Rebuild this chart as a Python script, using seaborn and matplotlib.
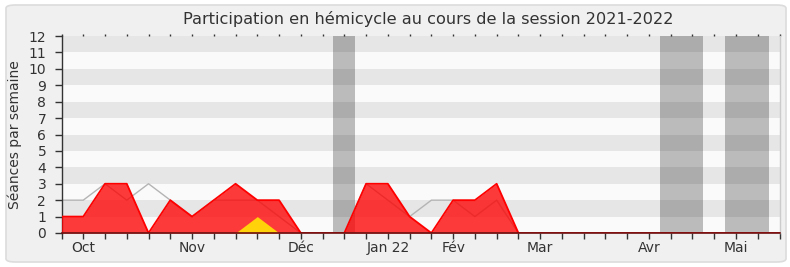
import matplotlib
matplotlib.use("Agg")
import matplotlib.pyplot as plt
from matplotlib.patches import FancyBboxPatch
import seaborn as sns
import pandas as pd
import numpy as np

# Week index 0..33 (weekly ticks, starting end of Sept 2021)
weeks = list(range(34))
# Participation of the deputy (red area)
presence = [1, 1, 3, 3, 0, 2, 1, 2, 3, 2, 2, 0, 0, 0, 3, 3, 1, 0, 2, 2, 3, 0,
            0, 0, 0, 0, 0, 0, 0, 0, 0, 0, 0, 0]
# Median participation (gray line)
median = [2, 2, 3, 2, 3, 2, 1, 2, 2, 2, 1, 0, 0, 0, 3, 2, 1, 2, 2, 1, 2, 0,
          0, 0, 0, 0, 0, 0, 0, 0, 0, 0, 0, 0]
# Interventions (yellow area)
questions = [0, 0, 0, 0, 0, 0, 0, 0, 0, 1, 0, 0, 0, 0, 0, 0, 0, 0, 0, 0, 0, 0,
             0, 0, 0, 0, 0, 0, 0, 0, 0, 0, 0, 0]
# Parliamentary recess (start, end) in week units
recess = [(12.5, 13.5), (27.5, 29.5), (30.5, 32.5)]
# Month labels
month_pos = [1, 6, 11, 15, 18, 22, 27, 31]
month_labels = ["Oct", "Nov", "Déc", "Jan 22", "Fév", "Mar", "Avr", "Mai"]

df = pd.DataFrame({"week": weeks, "presence": presence, "median": median,
                   "questions": questions})

sns.set_theme(style="white")
plt.rcParams["font.family"] = ["DejaVu Sans"]

fig = plt.figure(figsize=(7.9, 2.67), dpi=100, facecolor="white")
fig.patches.append(FancyBboxPatch((6 / 790, 5 / 267), 780 / 790, 257 / 267,
                                  boxstyle="round,pad=0,rounding_size=0.012",
                                  transform=fig.transFigure, facecolor="#f0f0f0",
                                  edgecolor="#dcdcdc", linewidth=1.2, zorder=-10))
ax = fig.add_axes([61.5 / 790, 1 - 233 / 267, 718 / 790, 197 / 267])
ax.set_facecolor("#fafafa")

# horizontal stripes
for k in range(1, 12, 2):
    ax.axhspan(k, k + 1, color="#e6e6e6", lw=0, zorder=0)

# recess bands
for a, b in recess:
    ax.axvspan(a, b, color="black", alpha=0.25, lw=0, zorder=1)

sns.lineplot(data=df, x="week", y="median", ax=ax, color="#b4b4b4", lw=1, zorder=2)
ax.fill_between(df["week"], 0, df["presence"], color="#ff0000", alpha=0.77, lw=0, zorder=3)
sns.lineplot(data=df, x="week", y="presence", ax=ax, color="#ff0000", lw=1.3, zorder=4)
ax.fill_between(df["week"], 0, df["questions"], color="#ffd20a", lw=0, zorder=5)

ax.set_xlim(0, 33)
ax.set_ylim(0, 12)
ax.set_yticks(range(13))
ax.set_xticks(weeks)
lab = [""] * len(weeks)
for p, l in zip(month_pos, month_labels):
    lab[p] = l
ax.set_xticklabels(lab)
ax.set_xlabel("")
ax.set_ylabel("Séances par semaine", fontsize=10, color="#333333", labelpad=5)

ax.tick_params(axis="y", direction="out", length=5, width=1, color="#333333",
               labelsize=10, labelcolor="#333333", pad=6, left=True)
ax.tick_params(axis="x", direction="out", length=4, width=1, color="#333333",
               labelsize=10, labelcolor="#333333", pad=2, bottom=True, top=False)

ax.spines["top"].set_visible(False)
ax.spines["right"].set_color("#cccccc")
ax.spines["right"].set_linewidth(1)
ax.spines["left"].set_color("#333333")
ax.spines["left"].set_linewidth(1)
ax.spines["bottom"].set_color("#6b1010")
ax.spines["bottom"].set_linewidth(1.2)
ax.spines["bottom"].set_zorder(6)

# small top ticks
secax = ax.secondary_xaxis("top")
secax.set_xticks(weeks)
secax.set_xticklabels([])
secax.tick_params(length=1.2, width=1, color="#333333", direction="out")
secax.spines["top"].set_visible(False)

fig.text(428 / 790, 1 - 19 / 267, "Participation en hémicycle au cours de la session 2021-2022",
         ha="center", va="center", fontsize=11.6, color="#333333")

fig.savefig("out.png", dpi=100, facecolor=fig.get_facecolor())
